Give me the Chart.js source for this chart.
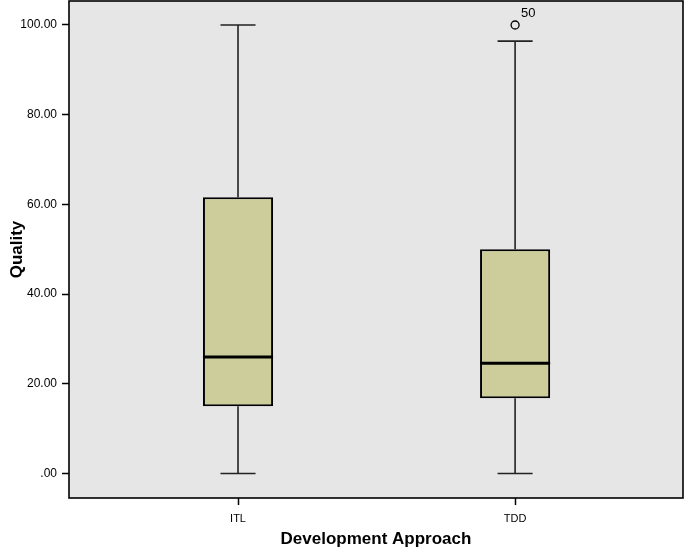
<!DOCTYPE html>
<html>
<head>
<meta charset="utf-8">
<script src="https://cdn.jsdelivr.net/npm/chart.js@4.4.1/dist/chart.umd.min.js"></script>
<style>
    body { margin: 0; background: #ffffff; }
    #chart { display: block; }
</style>
</head>
<body>
<canvas id="chart" width="685" height="550"></canvas>
<script>
    // Boxplot summary per development approach
    const categories = ['ITL', 'TDD'];
    const whiskerLow = [0, 0];
    const quartile1 = [15, 16.8];
    const medians = [26, 24.6];
    const quartile3 = [61.6, 50];
    const whiskerHigh = [100, 96.4];

    // Outliers (category position, value, case label)
    const outlierCategory = ['TDD'];
    const outlierValues = [100];
    const outlierLabels = ['50'];

    const yTickValues = [0, 20, 40, 60, 80, 100];
    const yTickLabels = ['.00', '20.00', '40.00', '60.00', '80.00', '100.00'];

    const boxFill = '#cdcd9b';
    const plotBg = '#e6e6e6';

    Chart.defaults.font.family = "'Liberation Sans', Arial, sans-serif";
    Chart.defaults.color = '#000';

    const boxplotPlugin = {
        id: 'boxplotParts',
        beforeDraw(chart) {
            const { ctx, chartArea } = chart;
            ctx.save();
            ctx.fillStyle = plotBg;
            ctx.fillRect(chartArea.left, chartArea.top, chartArea.right - chartArea.left, chartArea.bottom - chartArea.top);
            ctx.restore();
        },
        beforeDatasetsDraw(chart) {
            const { ctx } = chart;
            const xs = chart.scales.x, ys = chart.scales.y;
            const boxes = chart.getDatasetMeta(0).data;
            ctx.save();
            ctx.strokeStyle = '#222';
            ctx.lineWidth = 1.6;
            categories.forEach((c, i) => {
                const x = xs.getPixelForValue(i + 1);
                const half = boxes[i].width / 4;
                const yLo = ys.getPixelForValue(whiskerLow[i]);
                const yQ1 = ys.getPixelForValue(quartile1[i]);
                const yQ3 = ys.getPixelForValue(quartile3[i]);
                const yHi = ys.getPixelForValue(whiskerHigh[i]);
                ctx.beginPath();
                ctx.moveTo(x, yLo); ctx.lineTo(x, yQ1);
                ctx.moveTo(x, yQ3); ctx.lineTo(x, yHi);
                ctx.moveTo(x - half, yLo); ctx.lineTo(x + half, yLo);
                ctx.moveTo(x - half, yHi); ctx.lineTo(x + half, yHi);
                ctx.stroke();
            });
            ctx.restore();
        },
        afterDatasetsDraw(chart) {
            const { ctx, chartArea } = chart;
            const xs = chart.scales.x, ys = chart.scales.y;
            const boxes = chart.getDatasetMeta(0).data;
            ctx.save();
            // median lines
            ctx.strokeStyle = '#000';
            ctx.lineWidth = 3;
            categories.forEach((c, i) => {
                const b = boxes[i];
                const y = ys.getPixelForValue(medians[i]);
                ctx.beginPath();
                ctx.moveTo(b.x - b.width / 2, y);
                ctx.lineTo(b.x + b.width / 2, y);
                ctx.stroke();
            });
            // outlier case labels
            ctx.font = "13px 'Liberation Sans', Arial, sans-serif";
            ctx.fillStyle = '#000';
            ctx.textBaseline = 'middle';
            outlierValues.forEach((v, i) => {
                const x = xs.getPixelForValue(categories.indexOf(outlierCategory[i]) + 1);
                const y = ys.getPixelForValue(v);
                ctx.fillText(outlierLabels[i], x + 6, y - 12);
            });
            // frame
            ctx.strokeStyle = '#000';
            ctx.lineWidth = 1.6;
            ctx.strokeRect(chartArea.left, chartArea.top, chartArea.right - chartArea.left, chartArea.bottom - chartArea.top);
            ctx.restore();
        }
    };

    const ctx = document.getElementById('chart').getContext('2d');
    new Chart(ctx, {
        type: 'bar',
        data: {
            datasets: [{
                label: 'Quality',
                data: categories.map((c, i) => ({ x: i + 1, y: [quartile1[i], quartile3[i]] })),
                backgroundColor: boxFill,
                borderColor: '#000',
                borderWidth: 2,
                borderSkipped: false,
                barPercentage: 0.253,
                categoryPercentage: 1
            }, {
                type: 'scatter',
                label: 'Outliers',
                data: outlierValues.map((v, i) => ({ x: categories.indexOf(outlierCategory[i]) + 1, y: v })),
                pointStyle: 'circle',
                pointRadius: 4,
                pointBackgroundColor: plotBg,
                pointBorderColor: '#000',
                pointBorderWidth: 1.3
            }]
        },
        options: {
            responsive: false,
            devicePixelRatio: 1,
            animation: false,
            layout: { autoPadding: false, padding: { top: 1, right: 2, left: 0, bottom: 0 } },
            plugins: {
                legend: { display: false },
                tooltip: { enabled: false }
            },
            scales: {
                x: {
                    type: 'linear',
                    min: 0.39,
                    max: 2.606,
                    offset: false,
                    afterFit(scale) {
                        scale.height = 52;
                        scale.paddingLeft = 0;
                        scale.paddingRight = 0;
                    },
                    afterBuildTicks(scale) {
                        scale.ticks = categories.map((c, i) => ({ value: i + 1 }));
                    },
                    ticks: {
                        callback: (v) => categories[v - 1],
                        font: { size: 11 },
                        padding: 7,
                        maxRotation: 0
                    },
                    grid: {
                        drawOnChartArea: false,
                        drawTicks: true,
                        tickLength: 7,
                        tickColor: '#000',
                        tickWidth: 1.5,
                        offset: false
                    },
                    border: { display: false },
                    title: {
                        display: true,
                        text: 'Development Approach',
                        font: { size: 17, weight: 'bold' },
                        padding: { top: 0, bottom: 0 }
                    }
                },
                y: {
                    min: -5.45,
                    max: 105.35,
                    afterFit(scale) {
                        scale.width = 69;
                        scale.paddingTop = 0;
                        scale.paddingBottom = 0;
                    },
                    afterBuildTicks(scale) {
                        scale.ticks = yTickValues.map(v => ({ value: v }));
                    },
                    ticks: {
                        callback: (v) => yTickLabels[yTickValues.indexOf(v)],
                        font: { size: 12 },
                        padding: 5
                    },
                    grid: {
                        drawOnChartArea: false,
                        drawTicks: true,
                        tickLength: 7,
                        tickColor: '#000',
                        tickWidth: 1.5
                    },
                    border: { display: false },
                    title: {
                        display: true,
                        text: 'Quality',
                        font: { size: 17, weight: 'bold' },
                        padding: { top: 7, bottom: 0 }
                    }
                }
            }
        },
        plugins: [boxplotPlugin]
    });
</script>
</body>
</html>
